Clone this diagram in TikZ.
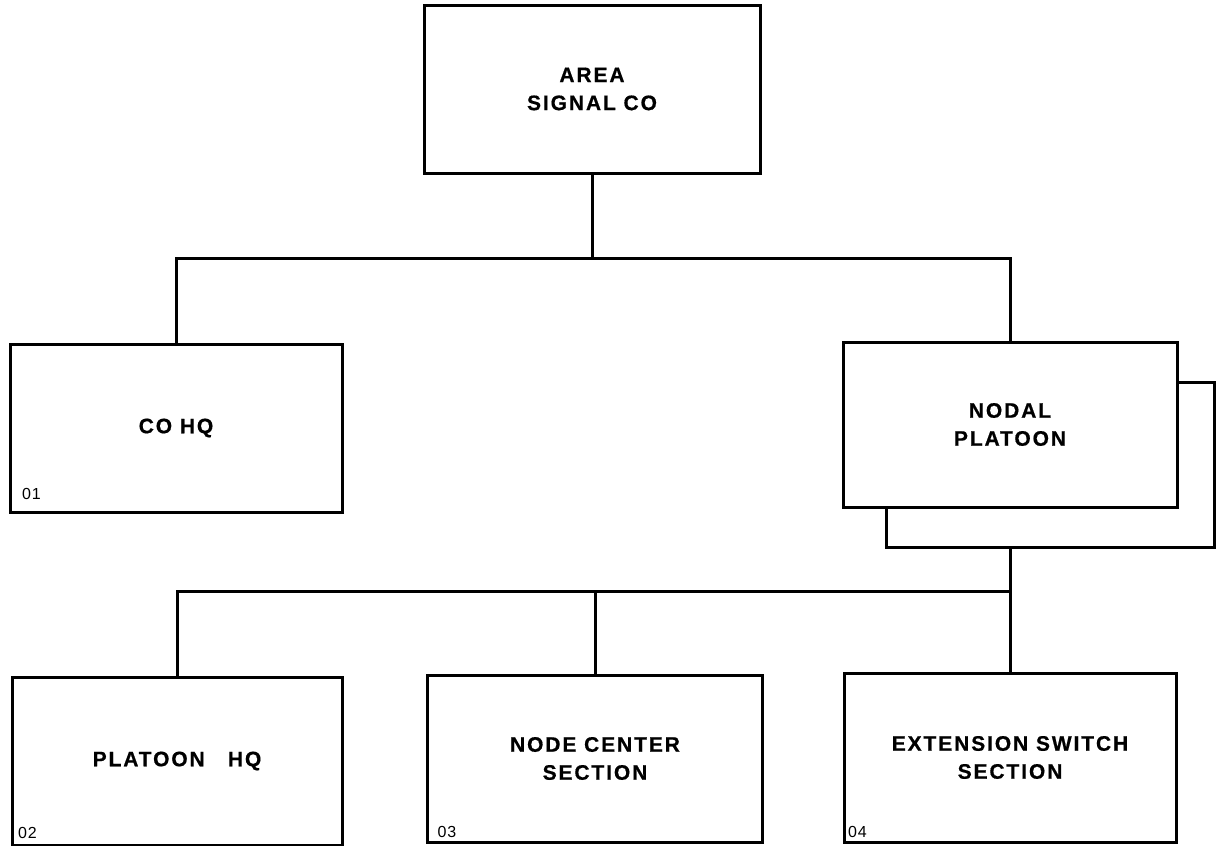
\documentclass[tikz,border=0pt]{standalone}
\usepackage{fontspec}
\setmainfont{Liberation Sans}
\newfontfamily\boxfont[LetterSpace=9,FakeBold=0.6]{Liberation Sans}
\newfontfamily\numfont[LetterSpace=6]{Liberation Sans}
\begin{document}
\begin{tikzpicture}[x=1pt,y=-1pt,line width=3pt,
  unit/.style={draw,fill=white,inner sep=0pt,align=center,
    font=\boxfont\bfseries\fontsize{21}{28}\selectfont},
  code/.style={anchor=base west,inner sep=0pt,
    font=\numfont\fontsize{16}{18}\selectfont}]
\useasboundingbox (0,0) rectangle (1216,846);

% company headquarters level
\node[unit,minimum width=336pt,minimum height=168pt] (top) at (592,89) {AREA\\SIGNAL CO};

% second level
\node[unit,minimum width=332pt,minimum height=168pt] (cohq) at (176,428) {CO HQ};
\node[draw,minimum width=328pt,minimum height=165pt,inner sep=0pt] (shadow) at (1050,464.5) {};
\node[unit,minimum width=334pt,minimum height=165pt] (nodal) at (1010,424.5) {NODAL\\PLATOON};

% platoon sections
\node[unit,minimum width=330pt,minimum height=168pt] (plhq) at (177,761) {PLATOON\ \ \ HQ};
\node[unit,minimum width=335pt,minimum height=167pt] (ncs) at (595,758.5) {NODE CENTER\\SECTION};
\node[unit,minimum width=332pt,minimum height=169pt] (ess) at (1010,757.5) {EXTENSION SWITCH\\SECTION};

% line numbers
\node[code] (n01) at ([shift={(12,-14)}]cohq.south west) {01};
\node[code] (n02) at ([shift={(6,-8)}]plhq.south west) {02};
\node[code] (n03) at ([shift={(10,-6)}]ncs.south west) {03};
\node[code] (n04) at ([shift={(4,-6)}]ess.south west) {04};

% connecting lines
\coordinate (busA) at (0,258);
\coordinate (busB) at (0,591);
\draw (top.south) -- (top.south |- busA);
\draw (cohq.north) |- (nodal.north |- busA) -- (nodal.north);
\draw (shadow.south -| nodal.center) -- (ess.north);
\draw (plhq.north) |- (ess.north |- busB);
\draw (ncs.north) -- (ncs.north |- busB);
\end{tikzpicture}
\end{document}
